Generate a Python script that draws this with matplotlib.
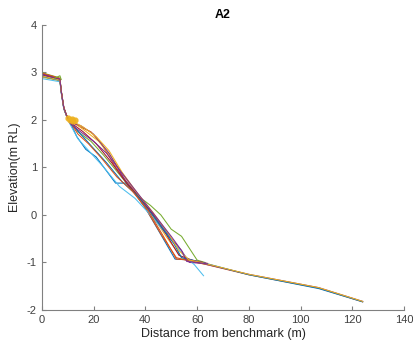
import numpy as np
import matplotlib
matplotlib.use("Agg")
import matplotlib.pyplot as plt

plt.rcParams['font.family'] = ['Liberation Sans', 'DejaVu Sans']
plt.rcParams['axes.unicode_minus'] = False

# MATLAB default colour order
colors = ['#0072BD', '#D95319', '#EDB120', '#7E2F8E', '#77AC30', '#4DBEEE', '#A2142F']

# shared start of each profile (crest and step), small offsets per profile
head_x = [0, 2, 5, 7, 7.5, 8.5, 9.5]
head_y = [2.95, 2.92, 2.88, 2.85, 2.6, 2.25, 2.1]
head_dy = [0.0, 0.03, -0.05, 0.02, 0.05, -0.08, 0.0, -0.03, 0.04, -0.02, 0.01]

# body of each profile
p1_x = [11, 13.5, 17, 21, 24, 28.5, 32.5, 36, 40, 51.5, 58]
p1_y = [1.95, 1.65, 1.38, 1.22, 1.0, 0.67, 0.67, 0.45, 0.15, -0.93, -0.95]
p2_x = [11, 15, 19, 23, 28, 34, 40, 46, 52, 58, 64, 80, 107, 124]
p2_y = [1.97, 1.85, 1.75, 1.5, 1.05, 0.6, 0.15, -0.4, -0.9, -0.98, -1.05, -1.26, -1.54, -1.83]
p3_x = [11, 16, 22, 27, 31, 36, 42, 48, 54, 60, 66]
p3_y = [2.0, 1.8, 1.55, 1.2, 0.88, 0.5, 0.05, -0.45, -0.9, -1.0, -1.07]
p4_x = [11, 15, 20, 26, 32, 38, 44, 50, 54, 57, 62, 80, 107, 124]
p4_y = [1.95, 1.88, 1.7, 1.3, 0.75, 0.35, -0.05, -0.5, -0.75, -1.0, -1.02, -1.25, -1.53, -1.82]
p5_x = [11, 14, 19, 24, 30, 36, 42, 46, 50, 54, 57, 60, 63]
p5_y = [1.95, 1.75, 1.55, 1.25, 0.85, 0.45, 0.2, 0.0, -0.3, -0.45, -0.7, -0.95, -1.0]
p6_x = [11, 14, 19, 24, 30, 36, 42, 48, 55, 59, 62.5]
p6_y = [1.9, 1.6, 1.3, 1.0, 0.6, 0.35, 0.0, -0.4, -0.85, -1.05, -1.28]
p7_x = [11, 16, 21, 27, 33, 38, 43, 48, 53, 58, 64]
p7_y = [1.95, 1.75, 1.5, 1.1, 0.65, 0.35, 0.0, -0.4, -0.85, -0.95, -1.02]
p8_x = [11, 15, 20, 25, 31, 37, 42, 47, 51, 54, 58, 62, 80, 107, 124]
p8_y = [1.95, 1.7, 1.4, 1.1, 0.7, 0.4, 0.05, -0.3, -0.6, -0.9, -0.95, -1.0, -1.26, -1.55, -1.83]
p9_x = [11, 14, 18, 23, 29, 35, 41, 47, 52, 57, 62]
p9_y = [1.95, 1.7, 1.5, 1.2, 0.8, 0.5, 0.1, -0.45, -0.93, -0.95, -1.0]
p10_x = [11, 16, 21, 26, 31, 37, 43, 49, 53, 57, 63, 80, 107, 124]
p10_y = [2.0, 1.85, 1.65, 1.35, 0.9, 0.45, 0.05, -0.4, -0.75, -0.95, -1.02, -1.25, -1.53, -1.82]
p11_x = [11, 15, 20, 25, 30, 35, 40, 45, 50, 54, 56, 60, 64]
p11_y = [1.92, 1.75, 1.55, 1.3, 0.95, 0.6, 0.25, -0.1, -0.45, -0.75, -0.98, -1.0, -1.03]

bodies = [(p1_x, p1_y), (p2_x, p2_y), (p3_x, p3_y), (p4_x, p4_y), (p5_x, p5_y),
          (p6_x, p6_y), (p7_x, p7_y), (p8_x, p8_y), (p9_x, p9_y), (p10_x, p10_y),
          (p11_x, p11_y)]

# yellow marker cluster near the toe of the step
mark_x = [10, 10.8, 11.5, 12.2, 13]
mark_y = [2.05, 2.0, 2.02, 1.98, 2.0]

fig = plt.figure(figsize=(4.14, 3.51), dpi=100)
ax = fig.add_axes([0.101, 0.117, 0.875, 0.812])

for i, (bx, by) in enumerate(bodies):
    xs = head_x + bx
    ys = [v + head_dy[i] * (1 - k / len(head_y)) for k, v in enumerate(head_y)] + by
    ax.plot(xs, ys, color=colors[i % len(colors)], lw=0.75)

# small green bump at the crest
ax.plot([5, 7, 7.5], [2.88, 2.93, 2.85], color=colors[4], lw=0.75)
ax.plot(mark_x, mark_y, 'o', color='#EDB120', ms=3.5, mec='#EDB120', alpha=0.85)

ax.set_xlim(0, 140)
ax.set_ylim(-2, 4)
ax.set_xticks(np.arange(0, 141, 20))
ax.set_yticks(np.arange(-2, 5, 1))
ax.spines['top'].set_visible(False)
ax.spines['right'].set_visible(False)
for s in ['left', 'bottom']:
    ax.spines[s].set_color('#808080')
    ax.spines[s].set_linewidth(0.8)
ax.tick_params(direction='in', length=3, width=0.8, colors='#808080',
               labelcolor='#404040', labelsize=8)
ax.set_xlabel('Distance from benchmark (m)', fontsize=9, color='#262626', labelpad=2)
ax.set_ylabel('Elevation(m RL)', fontsize=9, color='#262626', labelpad=4)
ax.set_title('A2', fontsize=9, fontweight='bold', pad=5)

fig.savefig('out.png', dpi=100)
